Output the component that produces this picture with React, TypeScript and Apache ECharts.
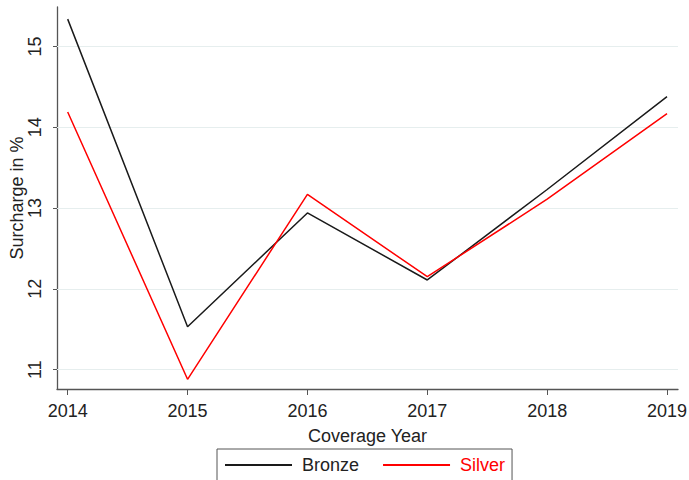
import React, { useEffect, useRef } from "react";
import * as echarts from "echarts";

const years = [2014, 2015, 2016, 2017, 2018, 2019];
const bronze = [15.34, 11.53, 12.94, 12.11, 13.23, 14.38];
const silver = [14.19, 10.88, 13.17, 12.15, 13.11, 14.17];
const yTicks = [11, 12, 13, 14, 15];

const FONT = "Liberation Sans, Arial, sans-serif";
const FS = 18;

export default function App() {
  const ref = useRef<HTMLDivElement>(null);
  useEffect(() => {
    if (!ref.current) return;
    const chart = echarts.init(ref.current, null, { renderer: "svg" });
    const toPairs = (vals: number[]) => years.map((y, i) => [y, vals[i]]);
    chart.setOption({
      animation: false,
      textStyle: { fontFamily: FONT },
      grid: {
        left: 57,
        top: 7,
        width: 621,
        height: 382,
        containLabel: false,
        outerBoundsMode: "none",
      },
      legend: {
        left: 217,
        top: 449,
        orient: "horizontal",
        icon: "rect",
        itemWidth: 67,
        itemHeight: 2,
        itemGap: 24,
        padding: [7, 7, 7, 8],
        borderColor: "#555",
        borderWidth: 1,
        borderRadius: 0,
        textStyle: { fontSize: FS, fontFamily: FONT, padding: [0, 0, 0, 5] },
        data: [
          { name: "Bronze", textStyle: { color: "#222" } },
          { name: "Silver", textStyle: { color: "#ff0000" } },
        ],
      },
      xAxis: {
        type: "value",
        min: 2014 - 10.7 / 120,
        max: 2019 + 11 / 120,
        name: "Coverage Year",
        nameLocation: "middle",
        nameGap: 38,
        nameMoveOverlap: false,
        nameTextStyle: { fontSize: FS, color: "#222", fontFamily: FONT },
        axisLine: { show: true, lineStyle: { color: "#555", width: 1.3 } },
        axisTick: { show: true, length: 6, lineStyle: { color: "#555" }, customValues: years },
        axisLabel: {
          fontSize: FS,
          color: "#222",
          margin: 13,
          customValues: years,
          formatter: (v: number) => String(Math.round(v)),
        },
        splitLine: { show: false },
      },
      yAxis: {
        type: "value",
        min: 10.76,
        max: 15.49,
        name: "Surcharge in %",
        nameLocation: "middle",
        nameRotate: 90,
        nameGap: 31,
        nameMoveOverlap: false,
        nameTextStyle: { fontSize: FS, color: "#222", fontFamily: FONT },
        axisLine: { show: true, lineStyle: { color: "#555", width: 1.3 } },
        axisTick: { show: true, length: 4, lineStyle: { color: "#555" }, customValues: yTicks },
        axisLabel: {
          fontSize: FS,
          color: "#222",
          rotate: 90,
          margin: 13,
          customValues: yTicks,
          formatter: (v: number) => String(Math.round(v)),
        },
        splitLine: { show: false },
      },
      series: [
        {
          name: "Bronze",
          type: "line",
          data: toPairs(bronze),
          symbol: "none",
          itemStyle: { color: "#1a1a1a" },
          lineStyle: { color: "#1a1a1a", width: 1.5 },
          z: 3,
          markLine: {
            silent: true,
            symbol: ["none", "none"],
            label: { show: false },
            lineStyle: { color: "#e6eeee", type: "solid", width: 1.2 },
            data: yTicks.map((t) => ({ yAxis: t })),
            z: 1,
          },
        },
        {
          name: "Silver",
          type: "line",
          data: toPairs(silver),
          symbol: "none",
          itemStyle: { color: "#ff0000" },
          lineStyle: { color: "#ff0000", width: 1.5 },
          z: 4,
        },
      ],
    });
    return () => chart.dispose();
  }, []);
  return (
    <div
      ref={ref}
      style={{ position: "absolute", left: 0, top: 0, width: 689, height: 480 }}
    />
  );
}
